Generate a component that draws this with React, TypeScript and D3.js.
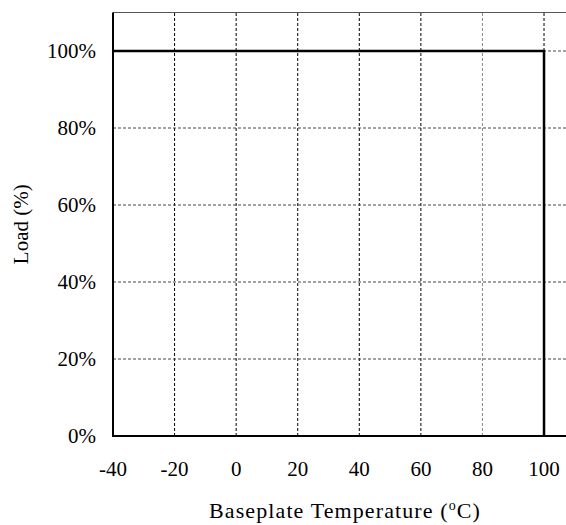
import React from "react";
import * as d3 from "d3";

const xTicks = [-40, -20, 0, 20, 40, 60, 80, 100];
const yTicks = [0, 20, 40, 60, 80, 100];
const curveTemp = [-40, 100, 100];
const curveLoad = [100, 100, 0];

const W = 566;
const H = 525;

export default function App() {
  const x = d3.scaleLinear().domain([-40, 120]).range([113, 605.6]);
  const y = d3.scaleLinear().domain([0, 110]).range([436, 12.5]);
  const pts: [number, number][] = curveTemp.map((t, i) => [t, curveLoad[i]]);
  const line = d3
    .line<[number, number]>()
    .x((d) => x(d[0]))
    .y((d) => y(d[1]));
  const font = "'Liberation Serif', 'Times New Roman', serif";
  const fs = 21;
  return (
    <svg
      width={W}
      height={H}
      style={{ position: "absolute", left: 0, top: 0, background: "#fff" }}
      fontFamily={font}
    >
      <rect x={0} y={0} width={W} height={H} fill="#fff" />
      {/* top border */}
      <line x1={x(-40)} x2={W} y1={y(110)} y2={y(110)} stroke="#555" strokeWidth={1} />
      {/* vertical grid */}
      {xTicks
        .filter((t) => t > -40)
        .map((t) => (
          <line
            key={"vx" + t}
            x1={x(t)}
            x2={x(t)}
            y1={y(0)}
            y2={y(110)}
            stroke={t === 80 ? "#888" : "#000"}
            strokeWidth={1}
            strokeDasharray="3,2"
          />
        ))}
      {/* horizontal grid */}
      {yTicks
        .filter((t) => t > 0)
        .map((t) => (
          <line
            key={"hy" + t}
            x1={x(-40)}
            x2={W}
            y1={y(t)}
            y2={y(t)}
            stroke="#444"
            strokeWidth={1}
            strokeDasharray="3,2"
          />
        ))}
      {/* axes */}
      <line x1={x(-40)} x2={x(-40)} y1={y(0) + 1} y2={y(110)} stroke="#000" strokeWidth={2} />
      <line x1={x(-40)} x2={W} y1={y(0)} y2={y(0)} stroke="#000" strokeWidth={2} />
      {/* data curve */}
      <path d={line(pts) || ""} fill="none" stroke="#000" strokeWidth={2.5} />
      {/* y tick labels */}
      {yTicks.map((t) => (
        <text
          key={"yl" + t}
          x={96}
          y={y(t)}
          dy="0.35em"
          textAnchor="end"
          fontSize={fs}
          fill="#000"
        >
          {t + "%"}
        </text>
      ))}
      {/* x tick labels */}
      {xTicks.map((t) => (
        <text
          key={"xl" + t}
          x={x(t)}
          y={476}
          textAnchor="middle"
          fontSize={fs}
          fill="#000"
        >
          {t}
        </text>
      ))}
      {/* axis titles */}
      <text
        transform={`translate(28,${y(55)}) rotate(-90)`}
        textAnchor="middle"
        fontSize={fs}
        fill="#000"
      >
        Load (%)
      </text>
      <text
        x={345}
        y={518}
        textAnchor="middle"
        fontSize={22}
        letterSpacing={1.1}
        fill="#000"
      >
        Baseplate Temperature (
        <tspan dy={-8} fontSize={14}>o</tspan>
        <tspan dy={8}>C)</tspan>
      </text>
    </svg>
  );
}
